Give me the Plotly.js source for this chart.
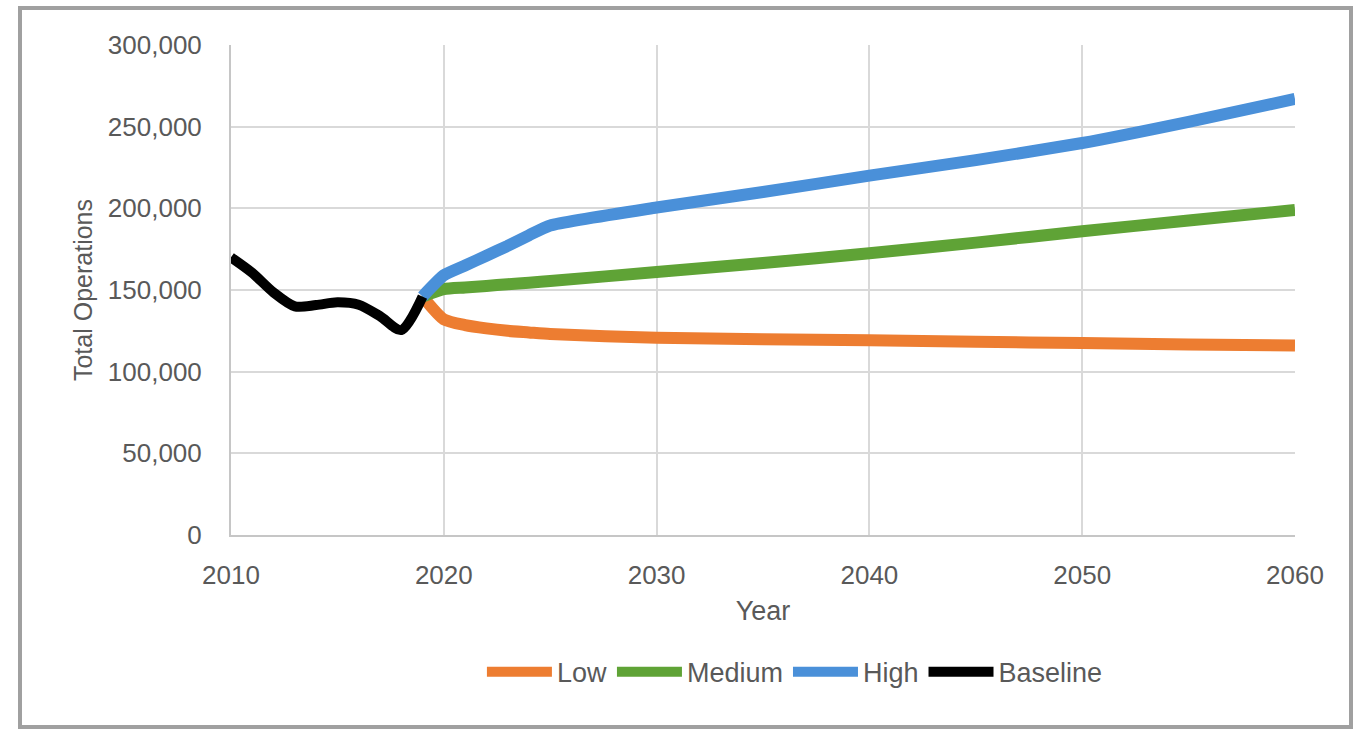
<!DOCTYPE html>
<html>
<head>
<meta charset="utf-8">
<script src="https://cdn.plot.ly/plotly-3.0.1.min.js"></script>
<style>html,body{margin:0;padding:0;background:#fff;}#chart{width:1356px;height:731px;}</style>
</head>
<body>
<div id="chart"></div>
<script>
// Baseline (historical)
const baselineYears = [2010, 2011, 2012, 2013, 2014, 2015, 2016, 2017, 2018, 2019];
const baselineOps = [170000, 160500, 148500, 140000, 140800, 142500, 141000, 134000, 125500, 146000];

// Forecast years
const forecastYears = [2019, 2020, 2021, 2022, 2023, 2024, 2025, 2030, 2035, 2040, 2045, 2050, 2055, 2060];
const lowOps =    [146000, 132000, 128500, 126500, 125000, 124000, 123000, 120800, 119800, 119200, 118300, 117500, 116700, 116000];
const mediumOps = [146000, 150500, 151500, 152500, 153500, 154500, 155500, 161000, 166500, 172500, 179000, 186000, 192500, 199000];
const highOps =   [146000, 159000, 165000, 171000, 177000, 183500, 189500, 200500, 210000, 220000, 229500, 240000, 253000, 267000];

const seriesNames = ['Low', 'Medium', 'High', 'Baseline'];
const seriesColors = ['#ED7D31', '#5FA336', '#4A90D9', '#000000'];

const FONT = '"Liberation Sans", Arial, sans-serif';
const TXT = '#595959';

const traces = [
  {x: forecastYears, y: lowOps, name: seriesNames[0], mode: 'lines',
   line: {color: seriesColors[0], width: 12, shape: 'spline', smoothing: 0.6}},
  {x: forecastYears, y: mediumOps, name: seriesNames[1], mode: 'lines',
   line: {color: seriesColors[1], width: 12, shape: 'spline', smoothing: 0.6}},
  {x: forecastYears, y: highOps, name: seriesNames[2], mode: 'lines',
   line: {color: seriesColors[2], width: 12, shape: 'spline', smoothing: 0.5}},
  {x: baselineYears, y: baselineOps, name: seriesNames[3], mode: 'lines',
   line: {color: seriesColors[3], width: 10, shape: 'spline', smoothing: 0.8}}
];

const layout = {
  width: 1356, height: 731,
  margin: {l: 231, r: 61, t: 45, b: 196},
  paper_bgcolor: '#ffffff', plot_bgcolor: '#ffffff',
  font: {family: FONT, size: 26, color: TXT},
  showlegend: true,
  xaxis: {
    range: [2010, 2060], dtick: 10, tick0: 2010,
    showgrid: true, gridcolor: '#d9d9d9', gridwidth: 2,
    showline: true, linecolor: '#c6c6c6', linewidth: 2,
    zeroline: false, ticks: '', ticklabelstandoff: 16,
    tickfont: {family: FONT, size: 26, color: TXT},
    title: {text: 'Year', font: {family: FONT, size: 27, color: TXT}, standoff: 12}
  },
  yaxis: {
    range: [0, 300000], dtick: 50000, tick0: 0, tickformat: ',d',
    showgrid: true, gridcolor: '#d9d9d9', gridwidth: 2,
    showline: true, linecolor: '#c6c6c6', linewidth: 2,
    zeroline: false, ticks: '', ticklabelstandoff: 22,
    tickfont: {family: FONT, size: 26, color: TXT},
    title: {text: 'Total Operations', font: {family: FONT, size: 25, color: TXT}, standoff: 8}
  },
  legend: {
    orientation: 'h', x: 0.53, xanchor: 'center', y: -0.28, yanchor: 'middle',
    font: {family: FONT, size: 27, color: TXT}, bgcolor: 'rgba(0,0,0,0)',
    itemwidth: 65, traceorder: 'normal'
  },
  shapes: [
    {type: 'rect', xref: 'paper', yref: 'paper',
     x0: (20 - 231) / 1064, x1: (1351 - 231) / 1064,
     y0: (535 - 727) / 490, y1: (535 - 8) / 490,
     line: {color: '#a0a0a0', width: 4}, fillcolor: 'rgba(0,0,0,0)', layer: 'below'}
  ]
};

Plotly.newPlot('chart', traces, layout, {displayModeBar: false, staticPlot: true});
</script>
</body>
</html>
